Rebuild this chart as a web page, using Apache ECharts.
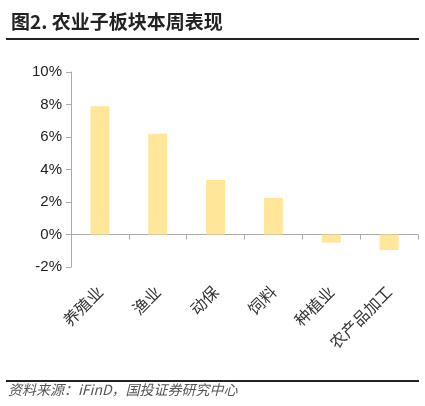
<!DOCTYPE html>
<html><head><meta charset="utf-8">
<script src="https://cdn.jsdelivr.net/npm/echarts@6/dist/echarts.min.js"></script>
<style>html,body{margin:0;padding:0;background:#fff}#c{width:425px;height:406px}</style>
</head><body><div id="c"></div>
<script>
const categories = ['养殖业', '渔业', '动保', '饲料', '种植业', '农产品加工'];
const values = [7.9, 6.2, 3.35, 2.25, -0.5, -0.95];

const chart = echarts.init(document.getElementById('c'));
const font = '"Noto Sans CJK SC", sans-serif';
chart.setOption({
  animation: false,
  title: {
    text: '图2. 农业子板块本周表现', left: 6, top: 7,
    textStyle: { fontFamily: font, fontSize: 19, fontWeight: 'bold', color: '#222' }
  },
  graphic: [
    { type: 'line', shape: { x1: 6, y1: 39, x2: 419, y2: 39 }, style: { stroke: '#222', lineWidth: 2 } },
    { type: 'line', shape: { x1: 6, y1: 381, x2: 419, y2: 381 }, style: { stroke: '#222', lineWidth: 2 } },
    { type: 'text', left: 8, top: 383, style: { text: '资料来源：iFinD，国投证券研究中心', font: 'italic 14px "Noto Sans CJK SC"', fill: '#555' } }
  ],
  grid: { left: 71, right: 7, top: 72, bottom: 139, containLabel: false },
  xAxis: {
    type: 'category', data: categories,
    axisLine: { onZero: true, lineStyle: { color: '#aaa' } },
    axisTick: { show: true, lineStyle: { color: '#aaa' } },
    axisLabel: { rotate: 45, interval: 0, fontFamily: font, fontSize: 16, color: '#333', margin: 22 }
  },
  yAxis: {
    type: 'value', min: -2, max: 10, interval: 2,
    splitLine: { show: false },
    axisLine: { show: true, lineStyle: { color: '#aaa' } },
    axisTick: { show: true, inside: false, length: 5, lineStyle: { color: '#aaa' } },
    axisLabel: { formatter: '{value}%', fontFamily: 'Liberation Sans, Arial', fontSize: 15, color: '#222', margin: 9 }
  },
  series: [{
    type: 'bar', data: values, barWidth: 19,
    itemStyle: { color: '#FFE699' }
  }]
});
</script></body></html>
